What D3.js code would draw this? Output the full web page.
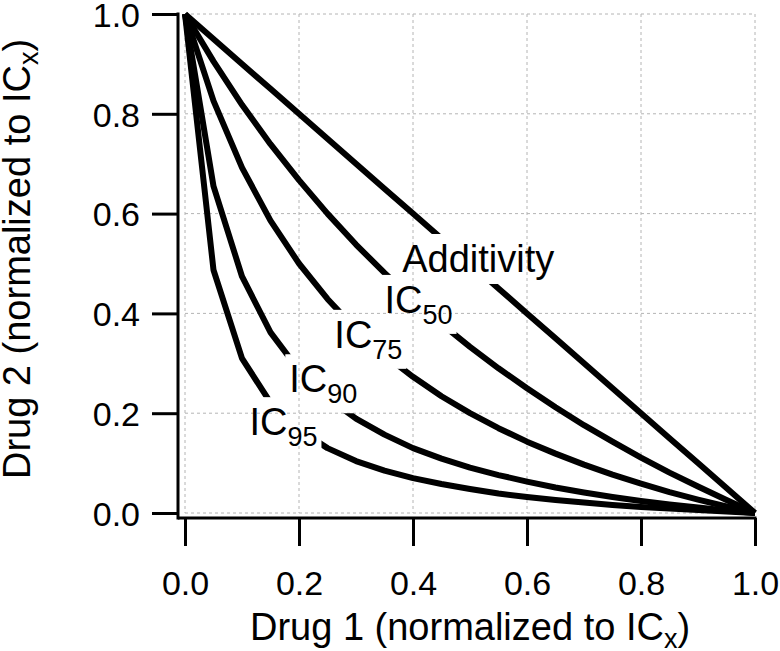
<!DOCTYPE html>
<html>
<head>
<meta charset="utf-8">
<script src="https://cdn.jsdelivr.net/npm/d3@7/dist/d3.min.js"></script>
<style>
  html, body { margin: 0; padding: 0; background: #fff; }
  svg { display: block; font-family: "Liberation Sans", Arial, Helvetica, sans-serif; }
</style>
</head>
<body>
<svg id="chart" width="780" height="651"></svg>
<script>
// ---- Data ----
const drug1 = [0, 0.05, 0.10, 0.15, 0.20, 0.25, 0.30, 0.35, 0.40, 0.45, 0.50,
               0.55, 0.60, 0.65, 0.70, 0.75, 0.80, 0.85, 0.90, 0.95, 1.00];
const additivity = [1, 0.95, 0.90, 0.85, 0.80, 0.75, 0.70, 0.65, 0.60, 0.55, 0.50,
                    0.45, 0.40, 0.35, 0.30, 0.25, 0.20, 0.15, 0.10, 0.05, 0];
const ic50 = [1, 0.905, 0.818, 0.739, 0.667, 0.600, 0.538, 0.481, 0.429, 0.379, 0.333,
              0.290, 0.250, 0.212, 0.176, 0.143, 0.111, 0.081, 0.053, 0.026, 0];
const ic75 = [1, 0.826, 0.692, 0.586, 0.500, 0.429, 0.368, 0.317, 0.273, 0.234, 0.200,
              0.170, 0.143, 0.119, 0.097, 0.077, 0.059, 0.042, 0.027, 0.013, 0];
const ic90 = [1, 0.655, 0.474, 0.362, 0.286, 0.231, 0.189, 0.157, 0.130, 0.109, 0.091,
              0.076, 0.063, 0.051, 0.041, 0.032, 0.024, 0.017, 0.011, 0.005, 0];
const ic95 = [1, 0.487, 0.310, 0.221, 0.167, 0.130, 0.104, 0.085, 0.070, 0.058, 0.048,
              0.039, 0.032, 0.026, 0.021, 0.016, 0.012, 0.009, 0.006, 0.003, 0];
const xTicks = [0, 0.2, 0.4, 0.6, 0.8, 1.0];
const yTicks = [0, 0.2, 0.4, 0.6, 0.8, 1.0];
const seriesNames = ["Additivity", "IC", "IC", "IC", "IC"];
const seriesSubs = ["", "50", "75", "90", "95"];
const seriesValues = [additivity, ic50, ic75, ic90, ic95];

// ---- Layout ----
const svg = d3.select("#chart");
const x = d3.scaleLinear().domain([0, 1]).range([185, 755]);
const y = d3.scaleLinear().domain([0, 1]).range([513, 14]);
const axisX = 178, axisY = 518;
const FONT_TICK = 34, FONT_TITLE = 38, FONT_LABEL = 38, FONT_SUB = 27;

// grid
const grid = svg.append("g").attr("stroke", "#b4b4b4").attr("stroke-width", 1)
  .attr("stroke-dasharray", "3,3").attr("fill", "none");
grid.selectAll("line.v").data(xTicks).join("line").attr("class", "v")
  .attr("x1", d => x(d)).attr("x2", d => x(d)).attr("y1", y(1)).attr("y2", y(0));
grid.selectAll("line.h").data(yTicks).join("line").attr("class", "h")
  .attr("y1", d => y(d)).attr("y2", d => y(d)).attr("x1", x(0)).attr("x2", x(1));

// curves group (filled later, after label boxes are known)
const curves = svg.append("g").attr("mask", "url(#gap)");

// axes
const fmt = d3.format(".1f");
const gy = svg.append("g").attr("transform", `translate(${axisX},0)`)
  .call(d3.axisLeft(y).tickValues(yTicks).tickFormat(fmt).tickSize(26).tickSizeOuter(0).tickPadding(12));
const gx = svg.append("g").attr("transform", `translate(0,${axisY})`)
  .call(d3.axisBottom(x).tickValues(xTicks).tickFormat(fmt).tickSize(28).tickSizeOuter(0).tickPadding(10));
[gx, gy].forEach(g => {
  g.select(".domain").remove();
  g.selectAll(".tick line").attr("stroke", "#000").attr("stroke-width", 3);
  g.selectAll(".tick text").attr("fill", "#000").attr("font-size", FONT_TICK)
    .attr("font-family", '"Liberation Sans", Arial, sans-serif');
});
gy.selectAll(".tick text").attr("dy", "0.36em");
gx.selectAll(".tick text").attr("dy", null).attr("y", 595 - axisY);
svg.append("line").attr("x1", axisX).attr("x2", axisX).attr("y1", y(1) - 1.5).attr("y2", axisY + 1.5)
  .attr("stroke", "#000").attr("stroke-width", 3);
svg.append("line").attr("x1", axisX).attr("x2", x(1) + 1.5).attr("y1", axisY).attr("y2", axisY)
  .attr("stroke", "#000").attr("stroke-width", 3);

// axis titles
const xt = svg.append("text").attr("x", (x(0) + x(1)) / 2).attr("y", 640)
  .attr("text-anchor", "middle").attr("font-size", FONT_TITLE);
xt.append("tspan").text("Drug 1 (normalized to IC");
xt.append("tspan").attr("font-size", FONT_SUB).attr("dy", 8).text("x");
xt.append("tspan").attr("dy", -8).text(")");

const yt = svg.append("text").attr("transform", `translate(30,${259}) rotate(-90)`)
  .attr("text-anchor", "middle").attr("font-size", FONT_TITLE);
yt.append("tspan").text("Drug 2 (normalized to IC");
yt.append("tspan").attr("font-size", FONT_SUB).attr("dy", 8).text("x");
yt.append("tspan").attr("dy", -8).text(")");

// curve labels (positions in data units)
const labelPos = [[0.381, 0.483], [0.350, 0.401], [0.262, 0.331], [0.183, 0.242], [0.113, 0.156]];
const labelG = svg.append("g").attr("font-size", FONT_LABEL);
const boxes = [];
seriesNames.forEach((name, i) => {
  const t = labelG.append("text").attr("x", x(labelPos[i][0])).attr("y", y(labelPos[i][1]));
  t.append("tspan").text(name);
  if (seriesSubs[i]) t.append("tspan").attr("font-size", FONT_SUB).attr("dy", 11).text(seriesSubs[i]);
  boxes.push(t.node().getBBox());
});

// mask to break curves around labels
const defs = svg.append("defs");
const mask = defs.append("mask").attr("id", "gap").attr("maskUnits", "userSpaceOnUse")
  .attr("x", 0).attr("y", 0).attr("width", 780).attr("height", 651);
mask.append("rect").attr("width", 780).attr("height", 651).attr("fill", "#fff");
const pad = 4;
boxes.forEach(b => {
  mask.append("rect").attr("x", b.x - pad).attr("y", b.y - pad)
    .attr("width", b.width + 2 * pad).attr("height", b.height + 2 * pad).attr("fill", "#000");
});

// curves
const line = d3.line().x((d, i) => x(drug1[i])).y(d => y(d));
curves.selectAll("path").data(seriesValues).join("path")
  .attr("d", d => line(d)).attr("fill", "none").attr("stroke", "#000")
  .attr("stroke-width", 6).attr("stroke-linejoin", "round");
</script>
</body>
</html>
